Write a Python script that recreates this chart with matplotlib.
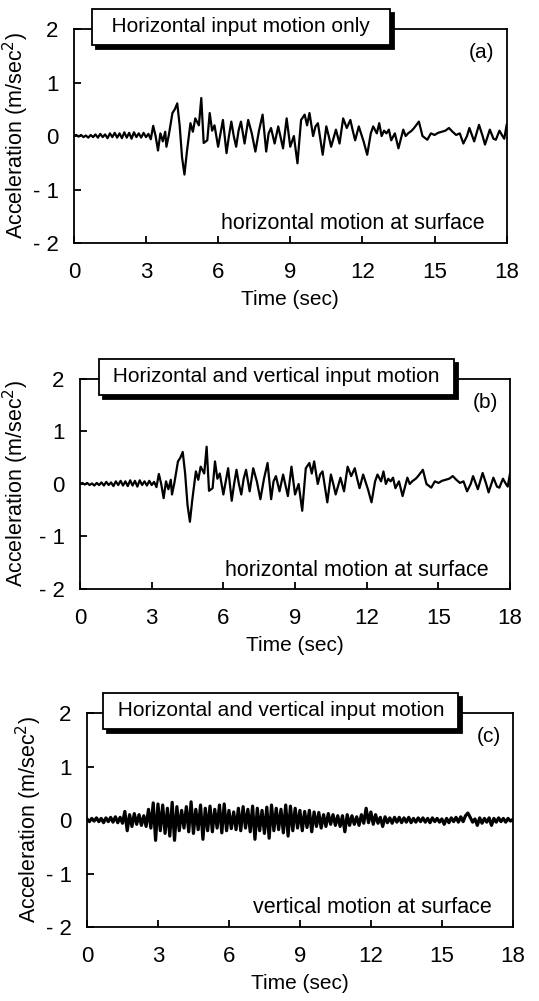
import matplotlib.pyplot as plt
from matplotlib import transforms

plt.rcParams['font.family'] = ['Liberation Sans', 'DejaVu Sans']

# surface horizontal acceleration (m/sec^2)
t_h = [0.0, 0.1, 0.2, 0.3, 0.4, 0.5, 0.6, 0.7, 0.8, 0.9, 1.0, 1.1, 1.2, 1.3, 1.4, 1.5,
       1.6, 1.7, 1.8, 1.9, 2.0, 2.1, 2.2, 2.3, 2.4, 2.5, 2.6, 2.7, 2.8, 2.9, 3.0, 3.1, 3.2,
       3.3, 3.4, 3.5, 3.6, 3.7, 3.8, 3.85, 3.95, 4.1, 4.2, 4.3, 4.4, 4.5, 4.6, 4.7, 4.85,
       4.95, 5.05, 5.2, 5.3, 5.4, 5.55, 5.65, 5.75, 5.85, 6.0, 6.1, 6.2, 6.35, 6.45, 6.55,
       6.65, 6.75, 6.85, 6.95, 7.1, 7.25, 7.4, 7.55, 7.7, 7.85, 8.0, 8.1, 8.2, 8.35, 8.5,
       8.7, 8.85, 9.0, 9.15, 9.3, 9.45, 9.6, 9.7, 9.8, 9.95, 10.05, 10.15, 10.35, 10.5,
       10.6, 10.7, 10.9, 11.05, 11.2, 11.35, 11.5, 11.6, 11.7, 11.85, 12.05, 12.2, 12.35,
       12.45, 12.6, 12.7, 12.8, 12.9, 13.0, 13.1, 13.2, 13.35, 13.5, 13.7, 13.8, 13.9,
       14.05, 14.15, 14.35, 14.5, 14.7, 14.85, 15.0, 15.15, 15.3, 15.45, 15.6, 15.75, 15.9,
       16.05, 16.2, 16.35, 16.45, 16.65, 16.85, 17.0, 17.1, 17.3, 17.45, 17.55, 17.7,
       17.8, 17.9, 18.0]
acc_h = [0.0, 0.02, -0.01, 0.02, -0.02, 0.01, -0.03, 0.02, -0.02, 0.03, -0.03, 0.04,
         -0.02, 0.03, -0.04, 0.05, -0.02, 0.06, -0.03, 0.05, -0.04, 0.07, -0.03, 0.06,
         -0.05, 0.07, -0.02, 0.05, -0.03, 0.06, -0.02, 0.04, -0.06,
         0.19, 0.0, -0.27, 0.05, -0.1, 0.08, -0.2, 0.02, 0.43, 0.5, 0.61, 0.2, -0.4, -0.72,
         -0.3, 0.24, 0.08, 0.33, 0.2, 0.71, -0.13, -0.08, 0.43, 0.1, 0.2, -0.2, 0.05, 0.3,
         -0.32, 0.0, 0.27, 0.0, -0.2, 0.1, 0.27, -0.14, 0.3, 0.05, -0.29, 0.1, 0.4, -0.29,
         0.05, 0.15, -0.14, 0.18, -0.23, 0.33, -0.2, 0.0, -0.51, 0.3, 0.4, 0.2, 0.43, 0.0,
         0.18, 0.24, -0.35, 0.18, 0.0, -0.2, 0.12, -0.14, 0.33, 0.15, 0.3, 0.1, -0.08, 0.18,
         -0.1, -0.35, 0.05, 0.18, 0.05, 0.24, 0.0, 0.1, 0.05, 0.12, -0.08, 0.05, -0.23,
         0.12, 0.0, 0.05, 0.1, 0.15, 0.27, 0.0, -0.07, 0.05, 0.02, 0.06, 0.08, 0.1, 0.15,
         0.08, 0.02, 0.05, -0.14, 0.0, 0.15, -0.1, 0.21, 0.0, -0.16, 0.12, -0.05, -0.07,
         0.1, 0.02, -0.05, 0.21]

# surface vertical acceleration (m/sec^2), panel (c), every 0.1 s
t_v = [round(0.1 * i, 1) for i in range(181)]
acc_v = [0.02, -0.03, 0.03, -0.02, 0.04, -0.03, 0.03, -0.05, 0.04, -0.03, 0.05, -0.04,
         0.06, -0.05, 0.05, -0.06,
         0.16, -0.2, 0.1, -0.12, 0.12, -0.08, 0.1, -0.1, 0.08, -0.12,
         0.2, -0.15, 0.32, -0.38, 0.3, -0.2, 0.28, -0.25, 0.22, -0.3, 0.33, -0.38, 0.25,
         -0.2, 0.18, -0.15, 0.25, -0.22, 0.34, -0.25, 0.2, -0.18, 0.28, -0.36, 0.22,
         -0.2, 0.26, -0.22, 0.2, -0.15, 0.28, -0.24, 0.3, -0.2, 0.18, -0.16, 0.15,
         -0.18, 0.22, -0.2, 0.25, -0.15, 0.2, -0.22, 0.26, -0.36, 0.22, -0.2, 0.18, -0.25,
         0.24, -0.34, 0.28, -0.2, 0.22, -0.18, 0.2, -0.24, 0.28, -0.3, 0.26, -0.2, 0.22,
         -0.15, 0.18,
         -0.2, 0.16, -0.14, 0.18, -0.22, 0.15, -0.12, 0.14, -0.15, 0.1, -0.12, 0.12, -0.08,
         0.1,
         -0.1, 0.08, -0.12, 0.08, -0.22, 0.1, -0.1, 0.08, -0.08, 0.06, -0.1, 0.1, -0.06,
         0.22, -0.05, 0.15, -0.08, 0.1,
         -0.06, 0.05, -0.12, 0.06, -0.05, 0.04, -0.06, 0.05, -0.04, 0.05,
         -0.05, 0.04, -0.04, 0.05, -0.05, 0.03, -0.04, 0.04, -0.03, 0.04,
         -0.04, 0.03, -0.05, 0.04, -0.03, 0.03, -0.04, 0.02, -0.08, 0.03,
         -0.05, 0.04, -0.03, 0.05, -0.04, 0.06, -0.03, 0.08, 0.13, 0.05,
         -0.04, 0.02, -0.1, 0.04, -0.06, 0.03, -0.04, 0.04, -0.1, 0.03,
         -0.04, 0.04, -0.03, 0.03, -0.04, 0.03, -0.02, 0.01]

x_ticks = [0, 3, 6, 9, 12, 15, 18]
y_ticks = [-2, -1, 0, 1, 2]
y_ticklabels = ['- 2', '- 1', '0', '1', '2']

# rect, time, accel, title, title x, padding spaces, tag, note, line width, ylabel x
panels = [
    ([0.137, 0.7572, 0.803, 0.2138], t_h, acc_h, 'Horizontal input motion only', 0.386, 2,
     '(a)', 'horizontal motion at surface', 1.6, -0.099),
    ([0.1484, 0.4116, 0.798, 0.2098], t_h, acc_h, 'Horizontal and vertical input motion', 0.456, 1,
     '(b)', 'horizontal motion at surface', 1.6, -0.114),
    ([0.1614, 0.0739, 0.790, 0.2138], t_v, acc_v, 'Horizontal and vertical input motion', 0.455, 1,
     '(c)', 'vertical motion at surface', 2.3, -0.101),
]

fig = plt.figure(figsize=(5.39, 10.01), dpi=100)

for rect, t, a, title, tx, nsp, tag, note, lw, ylx in panels:
    ax = fig.add_axes(rect)
    ax.plot(t, a, color='black', lw=lw)
    ax.set_xlim(0, 18)
    ax.set_ylim(-2, 2)
    ax.set_xticks(x_ticks)
    ax.set_yticks(y_ticks)
    ax.set_yticklabels(y_ticklabels)
    ax.tick_params(direction='in', length=5, width=1.3, labelsize=16)
    ax.tick_params(axis='x', pad=14)
    ax.tick_params(axis='y', pad=11)
    for s in ax.spines.values():
        s.set_linewidth(1.3)
    ax.set_xlabel('Time (sec)', fontsize=15, labelpad=5)
    ax.set_ylabel('Acceleration (m/sec$^2$)', fontsize=15.5)
    ax.yaxis.set_label_coords(ylx, 0.5)

    # title box with drop shadow
    label = ' ' * nsp + title + ' ' * nsp
    shadow = transforms.offset_copy(ax.transAxes, fig=fig, x=3, y=-3, units='points')
    ax.text(tx, 1.01, label, transform=shadow, ha='center', va='center', fontsize=15,
            color='black', zorder=5, clip_on=False,
            bbox=dict(boxstyle='square,pad=0.4', fc='black', ec='black', lw=1.3))
    ax.text(tx, 1.01, label, transform=ax.transAxes, ha='center', va='center', fontsize=15,
            zorder=6, clip_on=False,
            bbox=dict(boxstyle='square,pad=0.4', fc='white', ec='black', lw=1.3))

    ax.text(0.972, 0.89, tag, transform=ax.transAxes, ha='right', va='center', fontsize=15)
    ax.text(0.95, 0.09, note, transform=ax.transAxes, ha='right', va='center', fontsize=15.5)

fig.savefig('out.png', dpi=100)
